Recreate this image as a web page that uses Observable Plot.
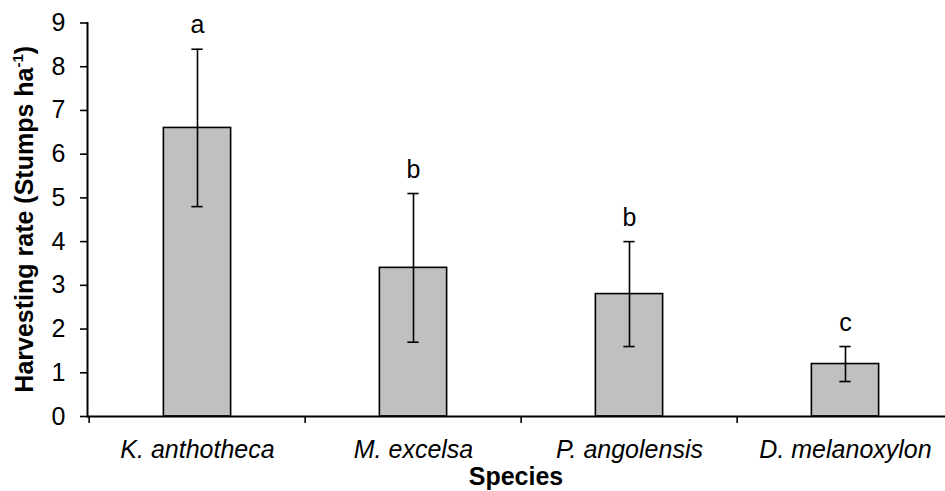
<!DOCTYPE html>
<html>
<head>
<meta charset="utf-8">
<script src="https://cdn.jsdelivr.net/npm/d3@7"></script>
<script src="https://cdn.jsdelivr.net/npm/@observablehq/plot@0.6"></script>
<style>
  html, body { margin: 0; padding: 0; background: #fff; overflow: hidden; }
  #chart svg { display: block; }
</style>
</head>
<body>
<div id="chart"></div>
<script>
const species = ["K. anthotheca", "M. excelsa", "P. angolensis", "D. melanoxylon"];
const means = [6.6, 3.4, 2.8, 1.2];
const lower = [4.8, 1.7, 1.6, 0.8];
const upper = [8.4, 5.1, 4.0, 1.6];
const letters = ["a", "b", "b", "c"];
const yTicks = [0, 1, 2, 3, 4, 5, 6, 7, 8, 9];
const xTitle = "Species";
const yTitle = "Harvesting rate (Stumps ha";

const data = species.map((s, i) => ({species: s, mean: means[i], lo: lower[i], hi: upper[i], letter: letters[i]}));

const FS = 25;
const font = "'Liberation Sans', Arial, sans-serif";

const W = 945, H = 491;
const mL = 87, mR = -9, mT = 22.5, mB = 75;
const step = (W - mR - mL) / species.length;
const barW = 68;
const inset = (step - barW) / 2;
const capW = 12;

const chart = Plot.plot({
  width: W,
  height: H,
  marginLeft: mL,
  marginRight: mR,
  marginTop: mT,
  marginBottom: mB,
  style: {fontFamily: font, fontSize: FS + "px", color: "#000", background: "#fff", overflow: "hidden"},
  x: {domain: species, padding: 0, label: null},
  y: {domain: [0, 9], label: null},
  marks: [
    Plot.barY(data, {x: "species", y: "mean", fill: "#c0c0c0", stroke: "#000", strokeWidth: 1.6, insetLeft: inset, insetRight: inset}),
    Plot.ruleX(data, {x: "species", y1: "lo", y2: "hi", stroke: "#000", strokeWidth: 1.6}),
    Plot.tickY(data, {x: "species", y: "hi", stroke: "#000", strokeWidth: 1.6, insetLeft: (step - capW) / 2, insetRight: (step - capW) / 2}),
    Plot.tickY(data, {x: "species", y: "lo", stroke: "#000", strokeWidth: 1.6, insetLeft: (step - capW) / 2, insetRight: (step - capW) / 2}),
    Plot.text(data, {x: "species", y: "hi", text: "letter", lineAnchor: "bottom", dy: -16, fontSize: FS, fill: "#000"}),
    Plot.axisY({ticks: yTicks, tickSize: 7, tickPadding: 15, strokeWidth: 1.6, fontSize: FS, label: null, tickFormat: d => String(d)}),
    Plot.axisX({ticks: species, tickSize: 7, dx: -step / 2, strokeWidth: 1.6, tickFormat: () => "", label: null}),
    Plot.axisX({ticks: species, tickSize: 0, tickPadding: 24, fontSize: FS, fontStyle: "italic", label: null}),
    Plot.ruleY([0], {stroke: "#000", strokeWidth: 2}),
    Plot.frame({anchor: "left", stroke: "#000", strokeWidth: 2})
  ]
});

document.getElementById("chart").appendChild(chart);

const svg = d3.select(chart);
svg.append("text")
  .attr("x", (mL + W) / 2)
  .attr("y", 485)
  .attr("text-anchor", "middle")
  .attr("font-family", font)
  .attr("font-weight", "bold")
  .attr("font-size", FS)
  .attr("fill", "#000")
  .text(xTitle);

const yt = svg.append("text")
  .attr("transform", `translate(33, ${(mT + (H - mB)) / 2}) rotate(-90)`)
  .attr("text-anchor", "middle")
  .attr("font-family", font)
  .attr("font-weight", "bold")
  .attr("font-size", FS)
  .attr("fill", "#000");
yt.append("tspan").text(yTitle);
yt.append("tspan").attr("font-size", FS * 0.6).attr("dy", -FS * 0.4).text("-1");
yt.append("tspan").attr("dy", FS * 0.4).text(")");
</script>
</body>
</html>
